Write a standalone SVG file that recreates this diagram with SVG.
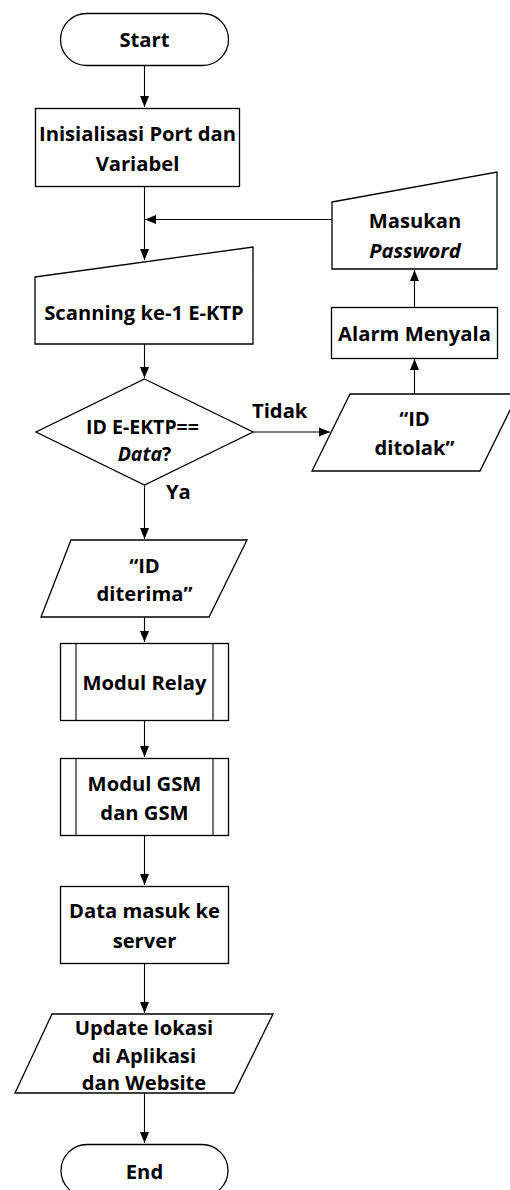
<svg xmlns="http://www.w3.org/2000/svg" width="510" height="1190" viewBox="0 0 510 1190">
<defs>
<marker id="ah" markerUnits="userSpaceOnUse" markerWidth="12" markerHeight="12" viewBox="0 0 12 12" refX="11" refY="6" orient="auto">
<path d="M0,1.5 L11,6 L0,10.5 Z" fill="#000"/>
</marker>
<style>
.s{fill:#fff;stroke:#000;stroke-width:1.3}
.c{fill:none;stroke:#000;stroke-width:1.1}
text{font-family:"Open Sans","Noto Sans",sans-serif;font-weight:bold;font-size:20.2px;fill:#000;text-anchor:middle}
.i{font-style:italic}
.l{text-anchor:start}
.d{font-size:19.5px}
</style>
</defs>
<rect width="510" height="1190" fill="#fff"/>
<g id="connectors">
<path class="c" d="M144.5,65 V107" marker-end="url(#ah)"/>
<path class="c" d="M144.5,186 V260" marker-end="url(#ah)"/>
<path class="c" d="M332,219.5 H145" marker-end="url(#ah)"/>
<path class="c" d="M144.5,344 V378" marker-end="url(#ah)"/>
<path class="c" d="M253,432 H330" marker-end="url(#ah)"/>
<path class="c" d="M414.5,394 V359" marker-end="url(#ah)"/>
<path class="c" d="M414.5,307 V270" marker-end="url(#ah)"/>
<path class="c" d="M144.5,485 V539" marker-end="url(#ah)"/>
<path class="c" d="M144.5,617 V642" marker-end="url(#ah)"/>
<path class="c" d="M144.5,720 V757" marker-end="url(#ah)"/>
<path class="c" d="M144.5,835 V885" marker-end="url(#ah)"/>
<path class="c" d="M144.5,963 V1013" marker-end="url(#ah)"/>
<path class="c" d="M144.5,1093 V1143" marker-end="url(#ah)"/>
<text class="l" x="252" y="417.5">Tidak</text>
<text class="l" x="166" y="499">Ya</text>
</g>
<g id="start">
<rect class="s" x="60.5" y="13.5" width="168" height="52" rx="26" ry="26"/>
<text x="144.5" y="46.5">Start</text>
</g>
<g id="init">
<rect class="s" x="35.5" y="108.5" width="204" height="78"/>
<text x="137.5" y="140.5">Inisialisasi Port dan</text>
<text x="137.5" y="170.5">Variabel</text>
</g>
<g id="masukan">
<path class="s" d="M332,202 L497,172 L497,269 L332,269 Z"/>
<text x="415" y="227.5">Masukan</text>
<text class="i" x="415" y="257.5">Password</text>
</g>
<g id="alarm">
<rect class="s" x="331.5" y="307.5" width="166" height="51"/>
<text x="414.5" y="340.5">Alarm Menyala</text>
</g>
<g id="ditolak">
<path class="s" d="M350,394 L518,394 L480,471 L312,471 Z"/>
<text x="414.5" y="425.5">“ID</text>
<text x="414.5" y="454.5">ditolak”</text>
</g>
<g id="scanning">
<path class="s" d="M35,277 L253,247 L253,344 L35,344 Z"/>
<text x="144" y="319.5">Scanning ke-1 E-KTP</text>
</g>
<g id="decision">
<path class="s" d="M144.5,379 L253,432 L144.5,485 L36,432 Z"/>
<text class="d" x="142.5" y="434">ID E-EKTP==</text>
<text class="d" x="144.5" y="461"><tspan class="i">Data</tspan>?</text>
</g>
<g id="diterima">
<path class="s" d="M71,540 L247,540 L209,617 L41,617 Z"/>
<text x="144.5" y="572.5">“ID</text>
<text x="144.5" y="600.5">diterima”</text>
</g>
<g id="relay">
<rect class="s" x="60.5" y="643.5" width="168" height="77"/>
<path class="c" d="M76,643.5 V720.5 M213,643.5 V720.5"/>
<text x="144.5" y="689.5">Modul Relay</text>
</g>
<g id="gsm">
<rect class="s" x="60.5" y="758.5" width="168" height="77"/>
<path class="c" d="M76,758.5 V835.5 M213,758.5 V835.5"/>
<text x="144.5" y="790.5">Modul GSM</text>
<text x="144.5" y="819.5">dan GSM</text>
</g>
<g id="server">
<rect class="s" x="60.5" y="886.5" width="168" height="77"/>
<text x="144.5" y="917.5">Data masuk ke</text>
<text x="144.5" y="947.5">server</text>
</g>
<g id="update">
<path class="s" d="M52,1014 L273,1014 L234,1093 L15,1093 Z"/>
<text x="144" y="1035">Update lokasi</text>
<text x="144" y="1063">di Aplikasi</text>
<text x="144" y="1090">dan Website</text>
</g>
<g id="end">
<rect class="s" x="61" y="1144.5" width="167" height="52" rx="26" ry="26"/>
<text x="144.5" y="1179">End</text>
</g>
</svg>
